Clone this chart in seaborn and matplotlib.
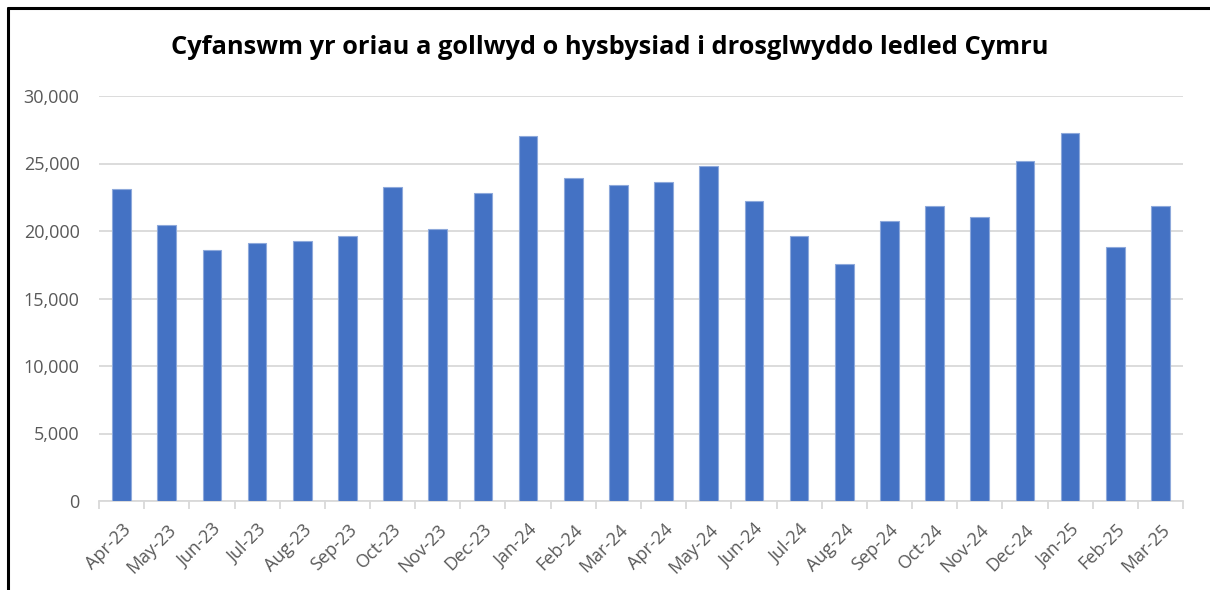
import numpy as np
import pandas as pd
import matplotlib
matplotlib.use('Agg')
import matplotlib.pyplot as plt
from matplotlib.ticker import FuncFormatter, FixedLocator
from matplotlib.lines import Line2D
import seaborn as sns

# misoedd a'r gwerthoedd (oriau a gollwyd)
months = ['Apr-23', 'May-23', 'Jun-23', 'Jul-23', 'Aug-23', 'Sep-23', 'Oct-23', 'Nov-23',
          'Dec-23', 'Jan-24', 'Feb-24', 'Mar-24', 'Apr-24', 'May-24', 'Jun-24', 'Jul-24',
          'Aug-24', 'Sep-24', 'Oct-24', 'Nov-24', 'Dec-24', 'Jan-25', 'Feb-25', 'Mar-25']
hours_lost = [23140, 20420, 18560, 19130, 19280, 19650, 23240, 20150,
              22800, 27030, 23960, 23440, 23660, 24800, 22250, 19600,
              17550, 20710, 21880, 21010, 25220, 27250, 18830, 21860]
y_ticks = [0, 5000, 10000, 15000, 20000, 25000, 30000]

title = 'Cyfanswm yr oriau a gollwyd o hysbysiad i drosglwyddo ledled Cymru'

df = pd.DataFrame({'month': months, 'hours': hours_lost})

sns.set_style('white')
plt.rcParams['font.family'] = ['Open Sans', 'DejaVu Sans']

fig = plt.figure(figsize=(12.1, 5.9), dpi=100)
ax = fig.add_axes([99 / 1210, 1 - 501 / 590, (1183 - 99) / 1210, (501 - 96) / 590])

sns.barplot(data=df, x='month', y='hours', color='#4472C4', width=0.41,
            edgecolor='#8EA9DB', linewidth=0.8, saturation=1, ax=ax, zorder=3)

ax.set_ylim(0, 30000)
ax.set_xlim(-0.5, len(months) - 0.5)
ax.set_yticks(y_ticks)
ax.yaxis.set_major_formatter(FuncFormatter(lambda v, p: f'{int(v):,}'))
ax.grid(axis='y', color='#d9d9d9', linewidth=1.3, zorder=0)
ax.set_axisbelow(True)

# tick marks between categories like Excel
ax.xaxis.set_minor_locator(FixedLocator(np.arange(-0.5, len(months), 1.0)))
ax.tick_params(axis='x', which='minor', length=6, width=1.3, color='#d9d9d9', bottom=True)
ax.tick_params(axis='x', which='major', length=0, pad=14, labelsize=13, labelcolor='#595959')
ax.tick_params(axis='y', length=0, pad=14, labelsize=13, labelcolor='#595959')
plt.setp(ax.get_xticklabels(), rotation=45, ha='right', rotation_mode='anchor')

for s in ['top', 'right', 'left']:
    ax.spines[s].set_visible(False)
ax.spines['bottom'].set_color('#d9d9d9')
ax.spines['bottom'].set_linewidth(1.3)

ax.set_xlabel('')
ax.set_ylabel('')

fig.text(610 / 1210, 1 - 48 / 590, title, ha='center', va='center',
         fontsize=18.3, fontweight='bold', color='black')

# ffrâm ddu ar y chwith a'r brig
fig.add_artist(Line2D([8 / 1210, 8 / 1210], [0, 1 - 8 / 590], color='black', linewidth=2.2,
                      transform=fig.transFigure))
fig.add_artist(Line2D([8 / 1210, 1], [1 - 8 / 590, 1 - 8 / 590], color='black', linewidth=2.2,
                      transform=fig.transFigure))

fig.savefig('out.png', dpi=100)
